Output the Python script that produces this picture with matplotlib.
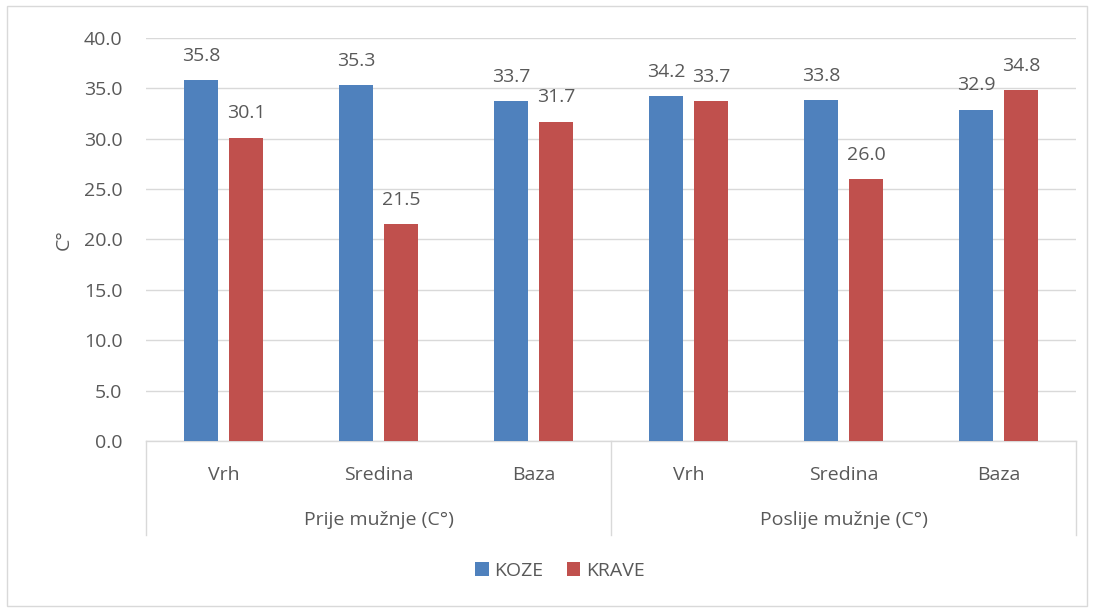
import matplotlib
matplotlib.use("Agg")
import matplotlib.pyplot as plt
from matplotlib.patches import Rectangle
from matplotlib.lines import Line2D
import matplotlib.transforms as mtransforms
import numpy as np

plt.rcParams['font.family'] = ['Open Sans', 'DejaVu Sans']

categories = ["Vrh", "Sredina", "Baza", "Vrh", "Sredina", "Baza"]
groups = ["Prije mužnje (C°)", "Poslije mužnje (C°)"]
koze = [35.8, 35.3, 33.7, 34.2, 33.8, 32.9]
krave = [30.1, 21.5, 31.7, 33.7, 26.0, 34.8]
series_names = ["KOZE", "KRAVE"]
yticks = [0, 5, 10, 15, 20, 25, 30, 35, 40]

c_blue = "#4F81BD"
c_red = "#C0504D"
c_text = "#595959"
c_grid = "#D9D9D9"
fs = 14

W, H = 1094, 609
fig = plt.figure(figsize=(W / 100, H / 100), dpi=100)
ax = fig.add_axes([146 / W, 1 - 441 / H, (1076 - 146) / W, (441 - 38) / H])

x = np.arange(len(categories))
bw = 0.22
off = 0.145
b1 = ax.bar(x - off, koze, bw, color=c_blue, label=series_names[0], zorder=3)
b2 = ax.bar(x + off, krave, bw, color=c_red, label=series_names[1], zorder=3)

for bars, vals in ((b1, koze), (b2, krave)):
    for rect, v in zip(bars, vals):
        ax.annotate(f"{v:.1f}", (rect.get_x() + rect.get_width() / 2, v),
                    xytext=(0, 11), textcoords="offset points",
                    ha="center", va="bottom", fontsize=fs, color=c_text)

ax.set_xlim(-0.5, len(categories) - 0.5)
ax.set_ylim(0, 40)
ax.set_yticks(yticks)
ax.set_yticklabels([f"{t:.1f}" for t in yticks])
ax.tick_params(axis="y", length=0, labelsize=fs, labelcolor=c_text, pad=17)
ax.set_xticks([])
ax.grid(axis="y", color=c_grid, linewidth=1, zorder=0)
for s in ("top", "right", "left"):
    ax.spines[s].set_visible(False)
ax.spines["bottom"].set_color(c_grid)
ax.spines["bottom"].set_linewidth(1)

ax.set_ylabel("C°", fontsize=fs, color=c_text, labelpad=8)

trans = mtransforms.blended_transform_factory(ax.transData, ax.transAxes)
for i, c in enumerate(categories):
    ax.text(i, -0.084, c, transform=trans, ha="center", va="center",
            fontsize=fs, color=c_text)
for g, name in enumerate(groups):
    ax.text(g * 3 + 1, -0.196, name, transform=trans, ha="center", va="center",
            fontsize=fs, color=c_text)
box_bottom = -(535 - 441) / (441 - 38)
for xb in (-0.5, 2.5, 5.5):
    ax.add_line(Line2D([xb, xb], [0, box_bottom], transform=trans,
                       color=c_grid, linewidth=1, clip_on=False))

fig.legend(handles=[b1, b2], labels=series_names, loc="center",
           bbox_to_anchor=(560 / W, 1 - 571 / H), ncol=2, frameon=False,
           fontsize=fs, handlelength=0.7, handleheight=0.7, handletextpad=0.3,
           columnspacing=1.2, labelcolor=c_text)

fig.patches.append(Rectangle((7 / W, 3 / H), (1087 - 7) / W, (600) / H,
                             transform=fig.transFigure, fill=False,
                             edgecolor=c_grid, linewidth=1))

fig.savefig("out.png", dpi=100, facecolor="white")
